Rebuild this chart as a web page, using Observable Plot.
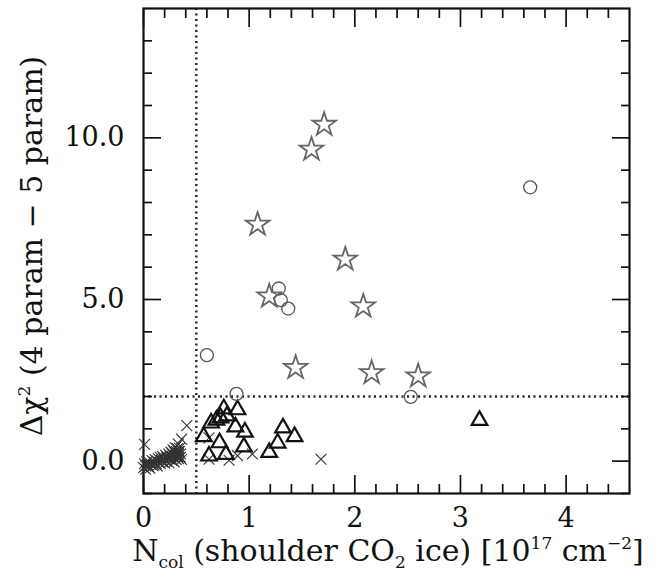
<!DOCTYPE html>
<html><head><meta charset="utf-8">
<script src="https://cdn.jsdelivr.net/npm/d3@7"></script>
<script src="https://cdn.jsdelivr.net/npm/@observablehq/plot@0.6"></script>
<style>body{margin:0;background:#fff}</style>
</head><body><div id="chart"></div>
<script>
// [N_col, delta chi^2]
const stars = [[1.71,10.41],[1.59,9.64],[1.08,7.32],[1.91,6.24],[2.08,4.79],[1.19,5.10],[1.44,2.89],[2.16,2.73],[2.60,2.63]];
const circles = [[3.66,8.47],[1.28,5.34],[1.30,4.98],[1.37,4.72],[0.60,3.28],[0.88,2.08],[2.53,1.99]];
const triangles = [[3.18,1.26],[0.76,1.62],[0.89,1.59],[0.79,1.40],[0.73,1.34],[0.69,1.27],[0.64,1.18],[0.87,1.06],[0.96,0.90],[0.57,0.76],[0.72,0.57],[0.95,0.44],[0.62,0.16],[0.78,0.21],[1.32,1.03],[1.43,0.76],[1.27,0.56],[1.19,0.27]];
const crosses = [[0.41,1.10],[0.36,0.68],[0.33,0.53],[0.01,0.52],[1.68,0.06],[1.03,0.22],[0.81,0.03],[0.89,0.17],[0.62,0.06],[0.62,0.72],
 [0.00,-0.20],[0.01,-0.08],[0.02,-0.15],[0.03,-0.02],[0.04,-0.12],[0.05,-0.18],[0.06,-0.05],[0.07,-0.10],[0.08,0.02],[0.09,-0.14],
 [0.10,-0.03],[0.11,0.05],[0.12,-0.08],[0.13,0.00],[0.14,0.08],[0.15,-0.04],[0.16,0.12],[0.17,0.03],[0.18,-0.02],[0.19,0.10],
 [0.20,0.05],[0.21,0.18],[0.22,0.00],[0.23,0.12],[0.24,0.22],[0.25,0.06],[0.26,0.28],[0.26,0.15],[0.27,0.02],[0.28,0.20],
 [0.28,0.35],[0.29,0.10],[0.30,0.25],[0.30,0.42],[0.31,0.05],[0.31,0.30],[0.32,0.15],[0.32,0.38],[0.33,0.22],[0.33,0.08],
 [0.34,0.30],[0.35,0.12],[0.29,-0.02],[0.24,-0.05],[0.18,0.15],[0.02,-0.25],[0.06,-0.22],[0.10,-0.12],[0.13,-0.15],[0.16,-0.08],
 [0.20,-0.06],[0.22,0.10],[0.25,0.16],[0.27,0.24],[0.30,0.16],[0.33,0.30],[0.35,0.22],[0.34,0.40],[0.29,0.30],[0.36,0.05]];
const xCut = [0.5];
const yCut = [2.0];
const xMajor = [0,1,2,3,4];
const xMinor = [0.2,0.4,0.6,0.8,1.2,1.4,1.6,1.8,2.2,2.4,2.6,2.8,3.2,3.4,3.6,3.8,4.2,4.4];
const yMajor = [0,5,10];
const yMinor = [-1,1,2,3,4,6,7,8,9,11,12,13];
const xDomain = [0, 4.6];
const yDomain = [-1, 14];

const font = "DejaVu Serif";
const tk = {stroke: "#111", strokeWidth: 1.7, tickFormat: () => "", label: null};
const chart = Plot.plot({
  width: 662, height: 580,
  marginLeft: 143, marginRight: 33, marginTop: 8, marginBottom: 87,
  style: {fontFamily: font, fontSize: "27px", color: "#111", background: "#fff"},
  x: {domain: xDomain, label: null},
  y: {domain: yDomain, label: null},
  marks: [
    Plot.ruleX(xCut, {stroke: "#222", strokeWidth: 2.4, strokeDasharray: "2,3.5"}),
    Plot.ruleY(yCut, {stroke: "#222", strokeWidth: 2.4, strokeDasharray: "2,3.5"}),
    Plot.axisX({...tk, ticks: xMinor, anchor: "bottom", tickSize: -9}),
    Plot.axisX({...tk, ticks: xMinor, anchor: "top", tickSize: -9}),
    Plot.axisX({...tk, ticks: xMajor, anchor: "bottom", tickSize: -18}),
    Plot.axisX({...tk, ticks: xMajor, anchor: "top", tickSize: -18}),
    Plot.axisY({...tk, ticks: yMinor, anchor: "left", tickSize: -9}),
    Plot.axisY({...tk, ticks: yMinor, anchor: "right", tickSize: -9}),
    Plot.axisY({...tk, ticks: yMajor, anchor: "left", tickSize: -18}),
    Plot.axisY({...tk, ticks: yMajor, anchor: "right", tickSize: -18}),
    Plot.axisX({ticks: xMajor, anchor: "bottom", tickSize: 0, tickPadding: 14, tickFormat: d => String(d), label: null}),
    Plot.axisY({ticks: yMajor, anchor: "left", tickSize: 0, tickPadding: 19, tickFormat: d => d.toFixed(1), label: null}),
    Plot.frame({stroke: "#111", strokeWidth: 2.2}),
    Plot.dot(crosses, {x: d => d[0], y: d => d[1], symbol: "times", r: 5, stroke: "#333", strokeWidth: 1.1}),
    Plot.dot(triangles, {x: d => d[0], y: d => d[1], symbol: "triangle", r: 5.8, stroke: "#111", strokeWidth: 2.2, fill: "none"}),
    Plot.dot(circles, {x: d => d[0], y: d => d[1], symbol: "circle", r: 6.5, stroke: "#555", strokeWidth: 1.3, fill: "none"}),
    Plot.dot(stars, {x: d => d[0], y: d => d[1], symbol: "star", r: 7.4, stroke: "#666", strokeWidth: 1.8, fill: "none"})
  ]
});
document.getElementById("chart").appendChild(chart);

const svg = d3.select(chart);
const xt = svg.append("text").attr("x", 388).attr("y", 561).attr("text-anchor", "middle")
  .attr("font-family", font).attr("font-size", 30).attr("fill", "#111");
xt.append("tspan").text("N");
xt.append("tspan").attr("font-size", 17).attr("dy", 7).text("col");
xt.append("tspan").attr("dy", -7).text(" (shoulder CO");
xt.append("tspan").attr("font-size", 17).attr("dy", 7).text("2");
xt.append("tspan").attr("dy", -7).text(" ice) [10");
xt.append("tspan").attr("font-size", 17).attr("dy", -12).text("17");
xt.append("tspan").attr("dy", 12).text(" cm");
xt.append("tspan").attr("font-size", 17).attr("dy", -12).text("−2");
xt.append("tspan").attr("dy", 12).text("]");

const yt = svg.append("text").attr("transform", "translate(42,246) rotate(-90)").attr("text-anchor", "middle")
  .attr("font-family", font).attr("font-size", 30).attr("fill", "#111");
yt.append("tspan").text("Δχ");
yt.append("tspan").attr("font-size", 17).attr("dy", -12).text("2");
yt.append("tspan").attr("dy", 12).text(" (4 param − 5 param)");
</script>
</body></html>
